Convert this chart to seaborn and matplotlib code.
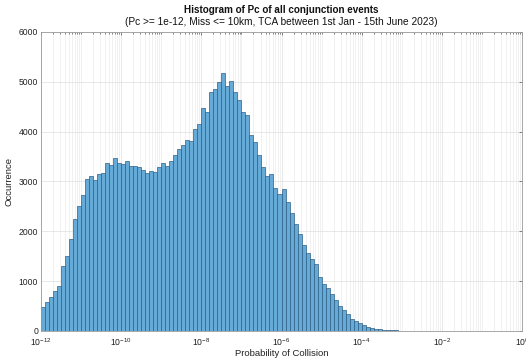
import numpy as np
import pandas as pd
import matplotlib
matplotlib.use("Agg")
import matplotlib.pyplot as plt
from matplotlib.ticker import LogLocator, FixedLocator, NullFormatter
import seaborn as sns

# Histogram layout: decades of Pc, 10 bins per decade
log_start = -12
log_stop = 0
bins_per_decade = 10

# Event counts per bin (from 1e-12 upward)
counts = [
    490, 590, 680, 805, 905, 1300, 1500, 1855, 2255, 2510,
    2735, 3055, 3120, 3035, 3155, 3165, 3380, 3340, 3480, 3370,
    3360, 3410, 3310, 3310, 3295, 3240, 3180, 3220, 3195, 3300,
    3365, 3320, 3420, 3535, 3660, 3735, 3825, 3810, 4060, 4155,
    4475, 4395, 4800, 4860, 5000, 5175, 4920, 5020, 4795, 4635,
    4395, 4325, 3935, 3785, 3535, 3300, 3120, 3145, 2860, 2755,
    2855, 2580, 2365, 2145, 1945, 1720, 1565, 1435, 1345, 1080,
    935, 855, 745, 625, 500, 430, 345, 240, 205, 160,
    115, 85, 60, 50, 40, 25, 20, 15, 12, 10,
    8, 6, 5, 4, 3, 2, 2, 1, 1, 1,
    0, 0, 0, 0, 0, 0, 0, 0, 0, 0,
    0, 0, 0, 0, 0, 0, 0, 0, 0, 0,
]

xtick_exponents = [-12, -10, -8, -6, -4, -2, 0]
yticks = [0, 1000, 2000, 3000, 4000, 5000, 6000]

title = "Histogram of Pc of all conjunction events"
subtitle = "(Pc >= 1e-12, Miss <= 10km, TCA between 1st Jan - 15th June 2023)"
xlabel = "Probability of Collision"
ylabel = "Occurrence"

sns.set_theme(style="white")
plt.rcParams["font.family"] = ["Liberation Sans", "DejaVu Sans"]
plt.rcParams["mathtext.fontset"] = "custom"
plt.rcParams["mathtext.rm"] = "Liberation Sans"
plt.rcParams["mathtext.it"] = "Liberation Sans"

width = 1.0 / bins_per_decade
n_bins = int(round((log_stop - log_start) * bins_per_decade))
log_centers = log_start + width * (np.arange(n_bins) + 0.5)
df = pd.DataFrame({"pc": 10.0 ** log_centers, "n": counts})

fig = plt.figure(figsize=(5.26, 3.60), dpi=100)
ax = fig.add_axes([41 / 526, 29 / 360, 481 / 526, 299 / 360])

sns.histplot(
    data=df, x="pc", weights="n", log_scale=True,
    binwidth=width, binrange=(log_start, log_stop),
    color="#66aad7", alpha=1.0, edgecolor="#2f5f86", linewidth=0.5,
    ax=ax,
)

ax.set_xlim(10.0 ** log_start, 10.0 ** log_stop)
ax.set_ylim(yticks[0], yticks[-1])

ax.xaxis.set_major_locator(FixedLocator([10.0 ** e for e in xtick_exponents]))
ax.set_xticklabels([rf"$10^{{{e}}}$" for e in xtick_exponents])
ax.xaxis.set_minor_locator(LogLocator(base=10, subs=np.arange(1, 10), numticks=100))
ax.xaxis.set_minor_formatter(NullFormatter())
ax.set_yticks(yticks)
ax.set_yticklabels([str(v) for v in yticks])

ax.set_axisbelow(True)
ax.grid(which="major", color="#dedede", linewidth=0.5)
ax.grid(which="minor", axis="x", color="#ececec", linewidth=0.5)

ax.tick_params(axis="both", which="both", direction="in", top=True, right=True,
               length=2.5, width=0.5, color="#555555", labelsize=6.2, pad=2,
               labelcolor="#222222")
ax.tick_params(axis="x", which="major", pad=3.5)
ax.tick_params(axis="both", which="minor", length=1.5)
for s in ax.spines.values():
    s.set_color("#9a9a9a")
    s.set_linewidth(0.6)

ax.set_xlabel(xlabel, fontsize=6.8, color="#222222", labelpad=1)
ax.set_ylabel(ylabel, fontsize=6.8, color="#222222", labelpad=4)

fig.text(0.5 * (41 + 522) / 526, 1 - 10 / 360, title, ha="center", va="center",
         fontsize=7.1, fontweight="bold", color="#111111")
fig.text(0.5 * (41 + 522) / 526, 1 - 22 / 360, subtitle, ha="center", va="center",
         fontsize=7.3, color="#111111")

fig.savefig("out.png", dpi=100)
